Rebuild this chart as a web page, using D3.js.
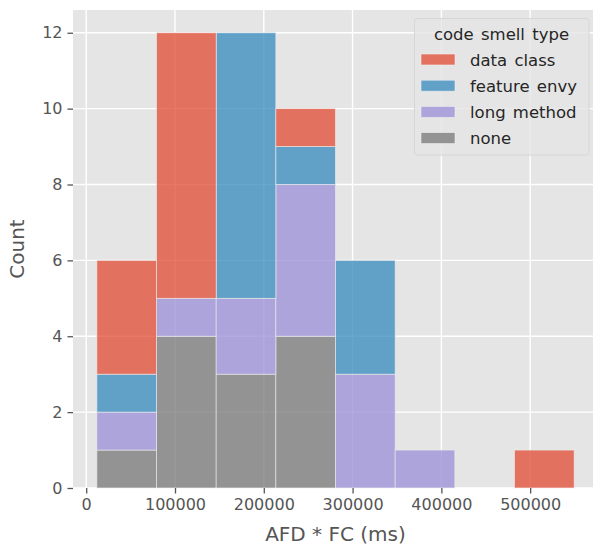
<!DOCTYPE html>
<html>
<head>
<meta charset="utf-8">
<script src="https://cdn.jsdelivr.net/npm/d3@7"></script>
<style>
	body { margin: 0; background: #fff; }
	text { font-family: "DejaVu Sans", sans-serif; }
</style>
</head>
<body>
<svg id="chart"></svg>
<script>
// histogram bin edges (AFD * FC, ms)
const binEdges = [12000, 79190, 146380, 213570, 280760, 347950, 415140, 482330, 549520];

// counts per bin for each code smell type
const categories = ['data class', 'feature envy', 'long method', 'none'];
const dataClass = [3, 7, 0, 1, 0, 0, 0, 1];
const featureEnvy = [1, 0, 7, 1, 3, 0, 0, 0];
const longMethod = [1, 1, 2, 4, 3, 1, 0, 0];
const none = [1, 4, 3, 4, 0, 0, 0, 0];

const xTicks = [0, 100000, 200000, 300000, 400000, 500000];
const yTicks = [0, 2, 4, 6, 8, 10, 12];

const colors = ['#E24A33', '#348ABD', '#988ED5', '#777777'];

const DIMENSION = {
	width: 593,
	height: 548,
	left: 73,
	right: 598,
	top: 10,
	bottom: 488
};

const svg = d3.select('#chart')
	.attr('width', DIMENSION.width)
	.attr('height', DIMENSION.height);

const xScale = d3.scaleLinear()
	.domain([-14875, 576395])
	.range([DIMENSION.left, DIMENSION.right]);

const yScale = d3.scaleLinear()
	.domain([0, 12.6])
	.range([DIMENSION.bottom, DIMENSION.top]);

// panel background
svg.append('rect')
	.attr('x', DIMENSION.left)
	.attr('y', DIMENSION.top)
	.attr('width', DIMENSION.right - DIMENSION.left)
	.attr('height', DIMENSION.bottom - DIMENSION.top)
	.attr('fill', '#E5E5E5');

// grid
const grid = svg.append('g');
grid.selectAll('.gx')
	.data(xTicks)
	.join('line')
	.attr('x1', d => xScale(d))
	.attr('x2', d => xScale(d))
	.attr('y1', DIMENSION.top)
	.attr('y2', DIMENSION.bottom)
	.attr('stroke', '#fff')
	.attr('stroke-width', 1.4);
grid.selectAll('.gy')
	.data(yTicks)
	.join('line')
	.attr('x1', DIMENSION.left)
	.attr('x2', DIMENSION.right)
	.attr('y1', d => yScale(d))
	.attr('y2', d => yScale(d))
	.attr('stroke', '#fff')
	.attr('stroke-width', 1.4);

// stacked bars, "none" at the bottom
const series = [dataClass, featureEnvy, longMethod, none];
const rows = binEdges.slice(0, -1).map((x0, i) => {
	const row = { x0: x0, x1: binEdges[i + 1] };
	categories.forEach((c, j) => { row[c] = series[j][i]; });
	return row;
});

const stack = d3.stack()
	.keys(categories.slice().reverse());

const layers = stack(rows);

const bars = svg.append('g');
layers.forEach(layer => {
	const color = colors[categories.indexOf(layer.key)];
	bars.append('g')
		.selectAll('rect')
		.data(layer.filter(d => d[1] > d[0]))
		.join('rect')
		.attr('x', d => xScale(d.data.x0))
		.attr('width', d => xScale(d.data.x1) - xScale(d.data.x0))
		.attr('y', d => yScale(d[1]))
		.attr('height', d => yScale(d[0]) - yScale(d[1]))
		.attr('fill', color)
		.attr('fill-opacity', 0.75)
		.attr('stroke', '#EEEEEE')
		.attr('stroke-opacity', 0.75)
		.attr('stroke-width', 0.8);
});

// axes
const xAxis = svg.append('g')
	.attr('transform', `translate(0,${DIMENSION.bottom})`)
	.call(d3.axisBottom(xScale).tickValues(xTicks).tickSize(5.5).tickPadding(5).tickFormat(d3.format('d')));
const yAxis = svg.append('g')
	.attr('transform', `translate(${DIMENSION.left},0)`)
	.call(d3.axisLeft(yScale).tickValues(yTicks).tickSize(5.5).tickPadding(5).tickFormat(d3.format('d')));

[xAxis, yAxis].forEach(a => {
	a.select('.domain').remove();
	a.selectAll('line').attr('stroke', '#555555').attr('stroke-width', 1.3);
	a.selectAll('text')
		.attr('fill', '#555555')
		.style('font-size', '16px')
		.style('font-family', '"DejaVu Sans", sans-serif');
});

svg.append('text')
	.attr('x', (DIMENSION.left + DIMENSION.right) / 2)
	.attr('y', 541)
	.attr('text-anchor', 'middle')
	.attr('fill', '#555555')
	.style('font-size', '20px')
	.text('AFD * FC (ms)');

svg.append('text')
	.attr('transform', `translate(24,${(DIMENSION.top + DIMENSION.bottom) / 2}) rotate(-90)`)
	.attr('text-anchor', 'middle')
	.attr('fill', '#555555')
	.style('font-size', '20px')
	.text('Count');

// legend
const legend = svg.append('g');
legend.append('rect')
	.attr('x', 414.5)
	.attr('y', 18.5)
	.attr('width', 174.5)
	.attr('height', 136.5)
	.attr('rx', 3)
	.attr('fill', '#E5E5E5')
	.attr('fill-opacity', 0.8)
	.attr('stroke', '#d6d6d6')
	.attr('stroke-width', 1);

legend.append('text')
	.attr('x', 501.5)
	.attr('y', 40)
	.attr('text-anchor', 'middle')
	.attr('fill', '#262626')
	.style('font-size', '16.5px')
	.style('word-spacing', '2px')
	.text('code smell type');

categories.forEach((c, i) => {
	const cy = 59.5 + i * 26.2;
	legend.append('rect')
		.attr('x', 421)
		.attr('y', cy - 5.5)
		.attr('width', 34)
		.attr('height', 11)
		.attr('fill', colors[i])
		.attr('fill-opacity', 0.75)
		.attr('stroke', '#EEEEEE')
		.attr('stroke-opacity', 0.75)
		.attr('stroke-width', 0.8);
	legend.append('text')
		.attr('x', 470)
		.attr('y', cy + 6)
		.attr('fill', '#262626')
		.style('font-size', '16.5px')
		.style('word-spacing', '2px')
		.text(c);
});
</script>
</body>
</html>
